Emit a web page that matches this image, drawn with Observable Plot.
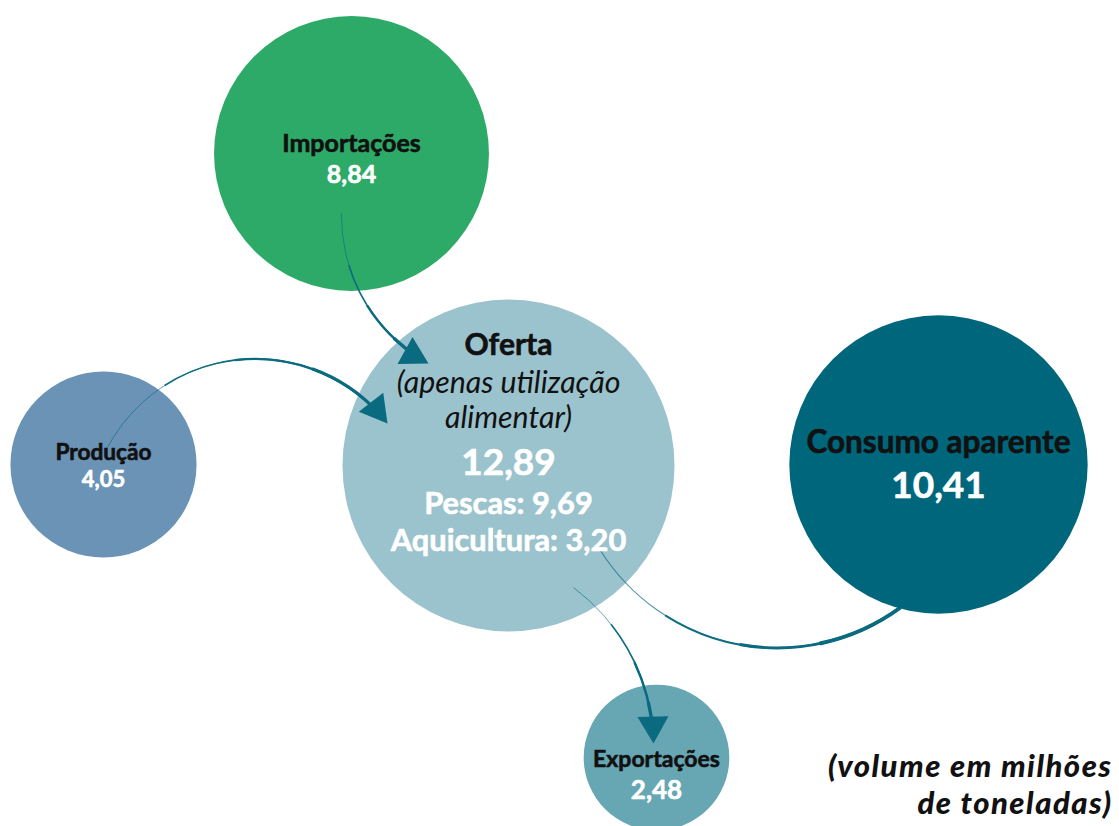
<!DOCTYPE html>
<html>
<head>
<meta charset="utf-8">
<script src="https://cdn.jsdelivr.net/npm/d3@7"></script>
<script src="https://cdn.jsdelivr.net/npm/@observablehq/plot@0.6"></script>
<style>
  html, body { margin: 0; padding: 0; background: #ffffff; overflow: hidden; }
  #chart svg { display: block; }
  #chart svg g[font-weight="900"] { letter-spacing: 1.5px; }
</style>
</head>
<body>
<div id="chart"></div>
<script>
// ---------- Data ----------
const nodes = ["Importações", "Produção", "Oferta", "Consumo aparente", "Exportações"];
const volumes = [8.84, 4.05, 12.89, 10.41, 2.48];           // milhões de toneladas
const supplyParts = ["Pescas", "Aquicultura"];
const supplyPartValues = [9.69, 3.20];
const supplyNote = ["(apenas utilização", "alimentar)"];
const unitNote = ["(volume em milhões", "de toneladas)"];
const flowFrom = ["Importações", "Produção", "Oferta", "Oferta"];
const flowTo = ["Oferta", "Oferta", "Consumo aparente", "Exportações"];

// ---------- Layout (diagram coordinates) ----------
const nodeX = [351, 103, 508, 938, 656];
const nodeY = [153, 464, 465, 464, 757];
const nodeColor = ["#2eaa68", "#6a93b5", "#9bc3cd", "#00667c", "#67a6b3"];
const labelY = [151, 459, 354, 452, 766];
const valueY = [182, 486, 474, 497, 798];
const labelSize = [25, 22.7, 30, 31.5, 23];
const valueSize = [25, 22, 37, 37, 26];
const partY = [513, 550];
const noteY = [392, 427];
const unitX = 1112;
const unitY = [776, 813.5];
const flowStart = [[341, 213], [107, 447], [600, 550], [573, 587]];
const flowEnd = [[428, 363], [387, 423], [900, 607], [653, 743]];
const flowBend = [-31, 57, -47, 26];
const flowHead = [true, true, false, true];
const arrowColor = "#0a6a80";

const fmt = v => v.toFixed(2).replace(".", ",");

const nodeData = nodes.map((name, i) => ({
  name, value: volumes[i], x: nodeX[i], y: nodeY[i], color: nodeColor[i]
}));

const flows = flowFrom.map((f, i) => {
  const [x1, y1] = flowStart[i];
  const [x2, y2] = flowEnd[i];
  const len = Math.hypot(x2 - x1, y2 - y1);
  const endAngle = Math.atan2(y2 - y1, x2 - x1) + flowBend[i] * Math.PI / 180;
  return {from: f, to: flowTo[i], x1, y1, x2, y2, bend: flowBend[i], len, endAngle, head: flowHead[i]};
});

// tapered strokes: several layers of the same arc, starting further along and thicker
const taper = [
  {from: 0.00, w: 0.9, o: 0.7},
  {from: 0.30, w: 1.6, o: 0.95},
  {from: 0.55, w: 2.4, o: 1},
  {from: 0.78, w: 3.3, o: 1}
];
const arrowMarks = [];
flows.forEach(fl => {
  taper.forEach(t => {
    arrowMarks.push(Plot.arrow([fl], {
      x1: "x1", y1: "y1", x2: "x2", y2: "y2",
      bend: fl.bend,
      headLength: 0,
      insetStart: t.from * fl.len,
      insetEnd: fl.head ? 12 : 0,
      stroke: arrowColor,
      strokeWidth: fl.head ? t.w : t.w * 1.2,
      strokeOpacity: t.o,
      strokeLinecap: "butt"
    }));
  });
});

const headR = 11.5;
const headData = flows.filter(f => f.head).map(f => ({
  x: f.x2 - Math.cos(f.endAngle) * 1.555 * headR,
  y: f.y2 - Math.sin(f.endAngle) * 1.555 * headR,
  rot: f.endAngle * 180 / Math.PI + 90
}));

const labelRows = nodes.map((n, i) => ({x: nodeX[i], y: labelY[i], text: n, size: labelSize[i]}));
const valueRows = volumes.map((v, i) => ({x: nodeX[i], y: valueY[i], text: fmt(v), size: valueSize[i]}));
const partRows = supplyParts.map((p, i) => ({x: nodeX[2], y: partY[i], text: `${p}: ${fmt(supplyPartValues[i])}`, size: 30.8}));
const noteRows = supplyNote.map((s, i) => ({x: nodeX[2], y: noteY[i], text: s, size: 30.3}));
const unitRows = unitNote.map((s, i) => ({x: unitX, y: unitY[i], text: s}));

const boldText = (rows, color) => Plot.text(rows, {
  x: "x", y: "y", text: "text", fontSize: "size", fontWeight: "bold",
  fill: color, stroke: color, strokeWidth: 0.6, lineAnchor: "bottom", textAnchor: "middle"
});

const chart = Plot.plot({
  width: 1119,
  height: 826,
  margin: 0,
  x: {domain: [0, 1119], range: [0, 1119], axis: null},
  y: {domain: [0, 826], range: [0, 826], axis: null},
  r: {type: "sqrt", domain: [0, d3.max(volumes)], range: [0, 166]},
  style: {fontFamily: "Lato, 'Open Sans', sans-serif", background: "#ffffff"},
  marks: [
    Plot.dot(nodeData, {filter: d => d.name !== "Consumo aparente", x: "x", y: "y", r: "value", fill: "color", stroke: null}),
    ...arrowMarks,
    Plot.dot(headData, {x: "x", y: "y", r: headR, symbol: "triangle", rotate: "rot", fill: arrowColor, stroke: null}),
    Plot.dot(nodeData, {filter: d => d.name === "Consumo aparente", x: "x", y: "y", r: "value", fill: "color", stroke: null}),
    boldText(labelRows, "#111111"),
    Plot.text(noteRows, {x: "x", y: "y", text: "text", fontSize: "size", fontStyle: "italic", fill: "#111111", lineAnchor: "bottom", textAnchor: "middle"}),
    boldText(valueRows, "#ffffff"),
    boldText(partRows, "#ffffff"),
    Plot.text(unitRows, {x: "x", y: "y", text: "text", fontSize: 31, fontWeight: 900, fontStyle: "italic", fill: "#111111", lineAnchor: "bottom", textAnchor: "end"})
  ]
});
document.getElementById("chart").appendChild(chart);
</script>
</body>
</html>
